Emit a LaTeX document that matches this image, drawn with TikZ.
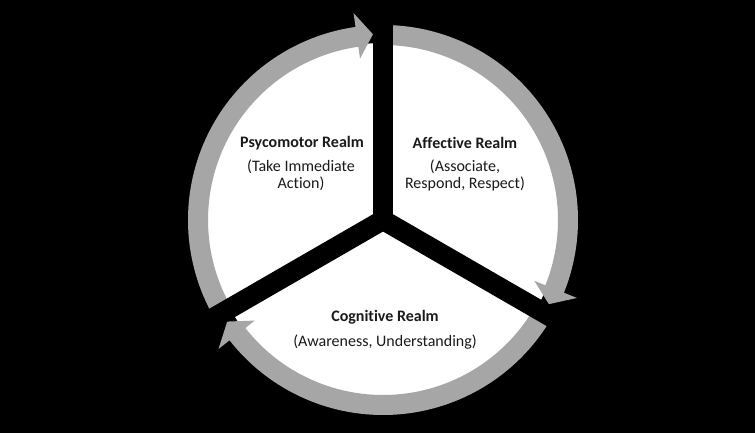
\documentclass[tikz,border=0pt]{standalone}
\usepackage{fontspec}
\setmainfont[Ligatures={NoCommon}]{Carlito}
\definecolor{ringgrey}{HTML}{A6A6A6}
\definecolor{txt}{HTML}{1A1A1A}
\begin{document}
\begin{tikzpicture}[x=1pt,y=1pt,
  cyclearrow/.style={fill=ringgrey,draw=none},
  divider/.style={draw=black,line width=20pt,line cap=butt},
  title/.style={font=\fontsize{16}{19}\selectfont\bfseries,text=txt,inner sep=0pt,align=center},
  sub/.style={font=\fontsize{16}{17.5}\selectfont,text=txt,inner sep=0pt,align=center}]
\fill[black] (0,0) rectangle (755,433);
\useasboundingbox (0,0) rectangle (755,433);
\begin{scope}[shift={(383,213)}]
  \coordinate (c) at (0,0);
  \fill[white] (c) circle[radius=177];
  % clockwise arrows: start angle s, tip at e+3.1, back of head at e+8.1
  \foreach \s/\e in {210/90, 90/-30, -30/-150}{
    \pgfmathsetmacro{\t}{\e+3.1}
    \pgfmathsetmacro{\b}{\e+8.1}
    \fill[cyclearrow] (\s:195) arc[start angle=\s, end angle=\b, radius=195]
      -- (\b:209) -- (\t:186) -- (\b:163) -- (\b:175)
      arc[start angle=\b, end angle=\s, radius=175] -- cycle;
  }
  \coordinate (armtop) at (90:230);
  \coordinate (armright) at (-30:230);
  \coordinate (armleft) at (210:230);
  \draw[divider] (c) -- (armtop);
  \draw[divider] (c) -- (armright);
  \draw[divider] (c) -- (armleft);
\end{scope}
\node[title] (psyt) at (302,290) {Psycomotor Realm};
\node[sub] (psys) at (301,257.5) {(Take Immediate\\Action)};
\node[title] (afft) at (465,290) {Affective Realm};
\node[sub] (affs) at (465,257.5) {(Associate,\\Respond, Respect)};
\node[title] (cogt) at (385,116) {Cognitive Realm};
\node[sub] (cogs) at (385,91) {(Awareness, Understanding)};
\end{tikzpicture}
\end{document}
